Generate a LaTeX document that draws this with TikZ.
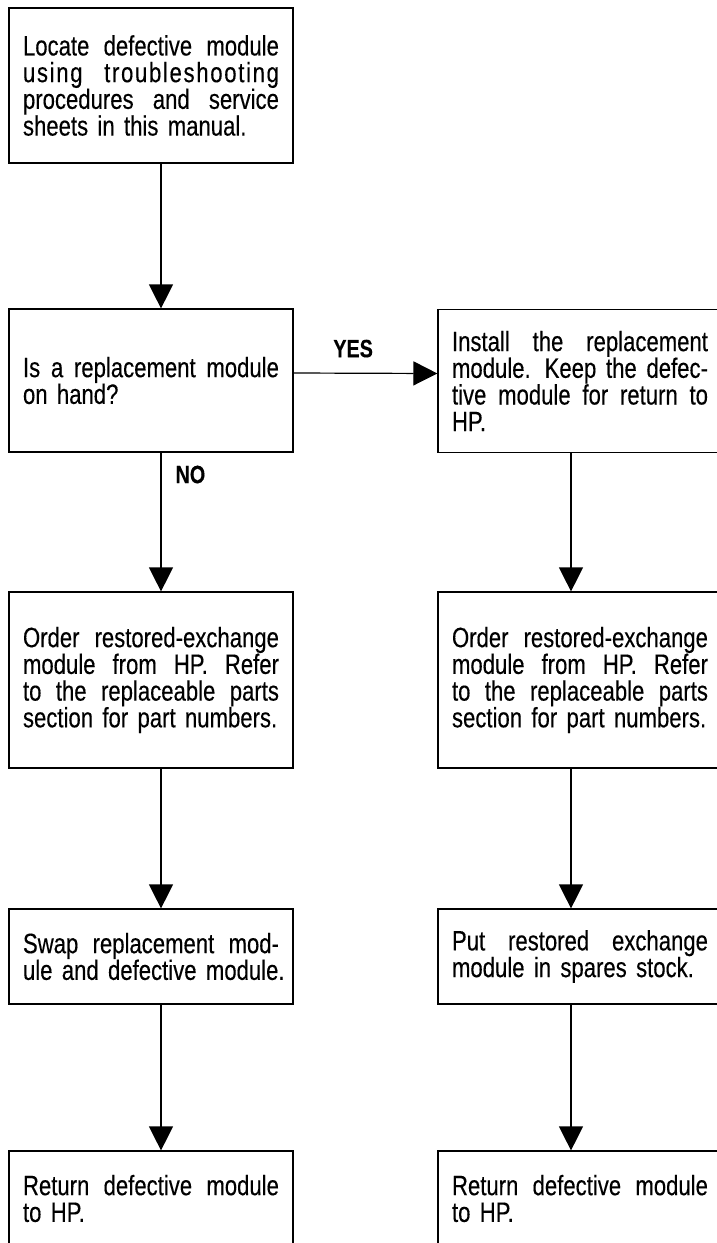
\documentclass[tikz,border=0pt]{standalone}
\usepackage{fontspec}
\setmainfont{Liberation Sans}[FakeStretch=0.79, FakeBold=0.3]
\usetikzlibrary{arrows.meta,calc}
\newcommand\jl[1]{\makebox[256pt][s]{\spaceskip=0.22em plus 1fil minus 0.05em\relax #1}\\}
\newcommand\lastl[1]{\makebox[256pt][l]{#1}}
\begin{document}
\begin{tikzpicture}[x=1pt,y=-1pt,
  box/.style={draw, line width=1.2pt, inner xsep=14pt, inner ysep=0pt,
    text width=256pt, minimum width=284pt,
    font=\fontsize{28}{26.7}\selectfont},
  arr/.style={line width=1.2pt, -{Triangle[length=24pt,width=24pt]}},
  lab/.style={inner sep=0pt, font=\fontsize{25}{25}\selectfont\bfseries}]
\useasboundingbox (0,0) rectangle (717,1243);
\fill[white] (0,0) rectangle (717,1243);
\clip (0,0) rectangle (717,1243);
% left column
\node[box, minimum height=155pt] (b1) at (151,85.5)
  {\jl{Locate defective module}\jl{\addfontfeature{LetterSpace=6}using troubleshooting}\jl{procedures and service}\lastl{sheets in this manual.}};
\node[box, minimum height=143pt] (b2) at (151,380.5)
  {\jl{Is a replacement module}\lastl{on hand?}};
\node[box, minimum height=176pt] (b3) at (151,680)
  {\jl{Order restored-exchange}\jl{module from HP. Refer}\jl{to the replaceable parts}\lastl{section for part numbers.}};
\node[box, minimum height=95pt] (b4) at (151,956.5)
  {\jl{Swap replacement mod-}\lastl{ule and defective module.}};
\node[box, minimum height=95pt] (b5) at (151,1198.5)
  {\jl{Return defective module}\lastl{to HP.}};
% right column
\node[box, minimum height=143pt] (r2) at (580,381)
  {\jl{Install the replacement}\jl{module. Keep the defec-}\jl{tive module for return to}\lastl{HP.}};
\node[box, minimum height=176pt] (r3) at (580,680)
  {\jl{Order restored-exchange}\jl{module from HP. Refer}\jl{to the replaceable parts}\lastl{section for part numbers.}};
\node[box, minimum height=95pt] (r4) at (580,956.5)
  {\jl{Put restored exchange}\lastl{module in spares stock.}};
\node[box, minimum height=95pt] (r5) at (580,1198.5)
  {\jl{Return defective module}\lastl{to HP.}};
% connectors
\draw[arr] ($(b1.south)+(10,0)$) -- ($(b2.north)+(10,0)$);
\draw[arr] ($(b2.south)+(10,0)$) -- node[lab, pos=0.22, anchor=base west, xshift=14pt]{NO} ($(b3.north)+(10,0)$);
\draw[arr] ($(b3.south)+(10,0)$) -- ($(b4.north)+(10,0)$);
\draw[arr] ($(b4.south)+(10,0)$) -- ($(b5.north)+(10,0)$);
\draw[arr] ($(b2.east)+(0,-7.5)$) -- node[lab, pos=0.414, anchor=base, yshift=16pt]{YES} ($(r2.west)+(0,-7.5)$);
\draw[arr] ($(r2.south)+(-9,0)$) -- ($(r3.north)+(-9,0)$);
\draw[arr] ($(r3.south)+(-9,0)$) -- ($(r4.north)+(-9,0)$);
\draw[arr] ($(r4.south)+(-9,0)$) -- ($(r5.north)+(-9,0)$);
\end{tikzpicture}
\end{document}
